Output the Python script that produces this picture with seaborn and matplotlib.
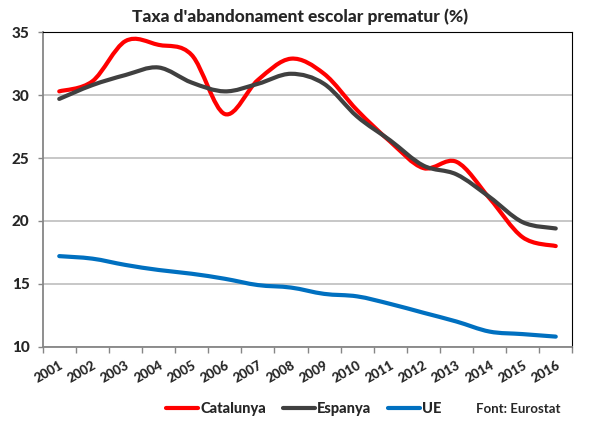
import numpy as np
import pandas as pd
import matplotlib
matplotlib.use('Agg')
import matplotlib.pyplot as plt
import seaborn as sns
from matplotlib.path import Path
from matplotlib.patches import PathPatch
from matplotlib.lines import Line2D

# ---- data ----
years = [str(y) for y in range(2001, 2017)]
catalunya = [30.3, 31.1, 34.3, 34.0, 33.2, 28.5, 31.2, 32.9, 31.7, 28.8, 26.3, 24.2, 24.7, 21.8, 18.7, 18.0]
espanya = [29.7, 30.8, 31.6, 32.2, 31.0, 30.3, 30.9, 31.7, 30.9, 28.3, 26.4, 24.4, 23.7, 21.9, 19.9, 19.4]
ue = [17.2, 17.0, 16.5, 16.1, 15.8, 15.4, 14.9, 14.7, 14.2, 14.0, 13.4, 12.7, 12.0, 11.2, 11.0, 10.8]
series_names = ['Catalunya', 'Espanya', 'UE']
series_colors = ['#FF0000', '#404040', '#0070C0']
yticks = [10, 15, 20, 25, 30, 35]
title = "Taxa d'abandonament escolar prematur (%)"
source = "Font: Eurostat"

sns.set_style('white')
plt.rcParams['font.family'] = ['Lato', 'DejaVu Sans']
HEAVY = 900

pos = np.arange(len(years))
df = pd.DataFrame({
    'pos': np.tile(pos, 3),
    'value': catalunya + espanya + ue,
    'serie': np.repeat(series_names, len(years)),
})

fig = plt.figure(figsize=(5.93, 4.28), dpi=100)
ax = fig.add_axes([0.0720, 0.19, 0.8931, 0.7346])

sns.lineplot(data=df, x='pos', y='value', hue='serie', hue_order=series_names,
             palette=dict(zip(series_names, series_colors)), linewidth=3,
             legend=False, sort=False, ax=ax)

# Excel-like smoothed line: cubic Bezier through the data points
def smooth_path(x, y):
    pts = np.column_stack([x, y]).astype(float)
    n = len(pts)
    verts = [pts[0]]
    codes = [Path.MOVETO]
    for i in range(n - 1):
        p0 = pts[i - 1] if i > 0 else pts[i]
        p1 = pts[i]
        p2 = pts[i + 1]
        p3 = pts[i + 2] if i + 2 < n else pts[i + 1]
        c1 = p1 + (p2 - p0) / 6.0
        c2 = p2 - (p3 - p1) / 6.0
        verts += [c1, c2, p2]
        codes += [Path.CURVE4] * 3
    return Path(verts, codes)

for z, line in enumerate(list(ax.lines)):
    x = line.get_xdata()
    y = line.get_ydata()
    col = line.get_color()
    lw = line.get_linewidth()
    patch = PathPatch(smooth_path(x, y), facecolor='none', edgecolor=col,
                      linewidth=lw, capstyle='round', joinstyle='round',
                      zorder=3 + z)
    ax.add_patch(patch)
    line.remove()

ax.set_xlim(-0.5, len(years) - 0.5)
ax.set_ylim(10, 35)
ax.set_xlabel('')
ax.set_ylabel('')

ax.set_yticks(yticks)
ax.set_yticklabels([str(v) for v in yticks], fontweight=HEAVY, fontsize=11)
ax.set_xticks(pos)
ax.set_xticklabels(years, rotation=30, ha='right', rotation_mode='anchor',
                   fontweight=HEAVY, fontsize=9.5)
ax.set_xticks(np.arange(-0.5, len(years), 1), minor=True)

gray_axis = '#868686'
ax.tick_params(axis='x', which='major', length=0, pad=9)
ax.tick_params(axis='x', which='minor', length=4, width=1, color=gray_axis, bottom=True)
ax.tick_params(axis='y', which='major', length=3.5, width=1, color=gray_axis, left=True, pad=6)

ax.grid(axis='y', color='#B8B8B8', linewidth=1.1)
ax.set_axisbelow(True)

for side in ['left', 'bottom']:
    ax.spines[side].set_color(gray_axis)
    ax.spines[side].set_linewidth(1.3)
for side in ['top', 'right']:
    ax.spines[side].set_color('black')
    ax.spines[side].set_linewidth(0.8)
    ax.spines[side].set_visible(True)

fig.text(300 / 593, 1 - 17 / 428, title, ha='center', va='center',
         fontweight=HEAVY, fontsize=12.5)

handles = [Line2D([], [], color=c, linewidth=3, solid_capstyle='round') for c in series_colors]
fig.legend(handles, series_names, loc='center left',
           bbox_to_anchor=(166 / 593, 1 - 409 / 428), ncol=3, frameon=False,
           borderpad=0, borderaxespad=0, handlelength=2.2, handletextpad=0.15,
           columnspacing=1.15, prop={'weight': HEAVY, 'size': 10.5})
fig.text(476 / 593, 1 - 409 / 428, source, ha='left', va='center',
         fontweight='bold', fontsize=9.5)

fig.savefig('out.png', dpi=100)
